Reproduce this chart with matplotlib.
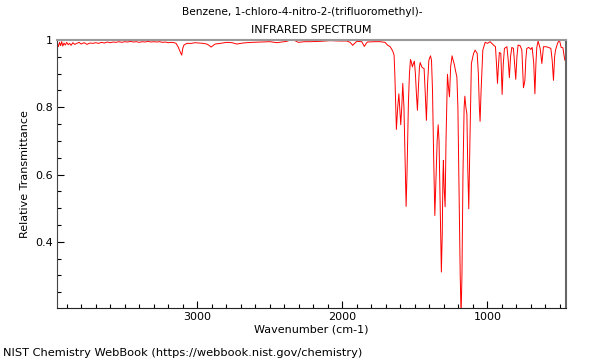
import numpy as np
import matplotlib
matplotlib.use('Agg')
import matplotlib.pyplot as plt
from matplotlib.ticker import MultipleLocator, FixedLocator

# spectrum (wavenumber cm-1, relative transmittance)
wavenumber = [
    3965, 3958, 3950, 3942, 3935, 3927, 3919, 3910, 3900, 3890, 3880, 3870, 3858, 3845,
    3830, 3815, 3800, 3780, 3760, 3740, 3720, 3700, 3680, 3660, 3640, 3620, 3600, 3580,
    3560, 3540, 3520, 3500, 3480, 3460, 3440, 3420, 3400, 3380, 3360, 3340, 3320, 3300,
    3280, 3260, 3240, 3220, 3200, 3180, 3160, 3146, 3130, 3123, 3112, 3107, 3100, 3092,
    3072, 3040, 3015, 2990, 2960, 2934, 2915, 2905, 2890, 2877, 2840, 2797, 2760, 2728,
    2700, 2684, 2659, 2620, 2567, 2498, 2452, 2420, 2383, 2360, 2326, 2303, 2260, 2222,
    2150, 2084, 2020, 1969, 1946, 1928, 1915, 1900, 1866, 1848, 1835, 1827, 1780, 1739,
    1705, 1689, 1670, 1652, 1643, 1638, 1627, 1618, 1610, 1603, 1597, 1590, 1583, 1575,
    1565, 1560, 1554, 1544, 1537, 1530, 1524, 1517, 1510, 1503, 1496, 1489, 1482, 1475,
    1468, 1463, 1452, 1445, 1436, 1430, 1420, 1412, 1403, 1392, 1385, 1378, 1370, 1362,
    1355, 1346, 1339, 1333, 1325, 1317, 1311, 1306, 1303, 1298, 1291, 1285, 1275, 1268,
    1261, 1253, 1243, 1236, 1229, 1220, 1210, 1203, 1195, 1187, 1181, 1175, 1168, 1160,
    1155, 1148, 1141, 1135, 1128, 1120, 1110, 1095, 1084, 1070, 1062, 1055, 1050, 1043,
    1031, 1015, 999, 981, 958, 944, 937, 930, 924, 917, 907, 898, 890, 882,
    865, 856, 848, 840, 831, 820, 812, 804, 796, 788, 774, 762, 751, 745,
    741, 735, 728, 714, 700, 691, 680, 672, 665, 659, 650, 636, 624, 613,
    595, 579, 562, 553, 544, 536, 530, 516, 503, 491, 479, 466, 459,
]
transmittance = [
    0.990, 0.980, 0.993, 0.983, 0.995, 0.982, 0.991, 0.985, 0.993, 0.986, 0.990, 0.984, 0.992, 0.987,
    0.990, 0.993, 0.988, 0.992, 0.987, 0.991, 0.990, 0.992, 0.990, 0.993, 0.991, 0.994, 0.992, 0.994,
    0.993, 0.995, 0.993, 0.995, 0.994, 0.996, 0.994, 0.995, 0.993, 0.995, 0.994, 0.996, 0.994, 0.995,
    0.994, 0.995, 0.993, 0.994, 0.992, 0.993, 0.992, 0.990, 0.978, 0.970, 0.960, 0.955, 0.975, 0.985,
    0.990, 0.990, 0.992, 0.991, 0.990, 0.988, 0.983, 0.979, 0.984, 0.988, 0.990, 0.993, 0.992, 0.988,
    0.990, 0.991, 0.992, 0.993, 0.994, 0.995, 0.992, 0.994, 0.996, 1.000, 0.998, 0.993, 0.995, 0.995,
    0.996, 0.998, 0.997, 0.997, 0.993, 0.984, 0.990, 0.996, 0.995, 0.981, 0.990, 0.994, 0.995, 0.995,
    0.993, 0.985, 0.980, 0.967, 0.955, 0.900, 0.734, 0.800, 0.840, 0.790, 0.748, 0.800, 0.871, 0.800,
    0.600, 0.505, 0.600, 0.816, 0.900, 0.942, 0.935, 0.920, 0.930, 0.937, 0.900, 0.840, 0.791, 0.860,
    0.920, 0.933, 0.920, 0.917, 0.915, 0.860, 0.761, 0.870, 0.940, 0.953, 0.940, 0.850, 0.650, 0.478,
    0.580, 0.700, 0.748, 0.700, 0.500, 0.310, 0.420, 0.600, 0.642, 0.560, 0.504, 0.700, 0.898, 0.860,
    0.831, 0.920, 0.953, 0.940, 0.930, 0.910, 0.890, 0.800, 0.550, 0.300, 0.180, 0.300, 0.600, 0.800,
    0.833, 0.800, 0.780, 0.620, 0.498, 0.700, 0.930, 0.960, 0.970, 0.960, 0.900, 0.800, 0.758, 0.850,
    0.970, 0.993, 0.990, 0.995, 0.985, 0.980, 0.930, 0.871, 0.920, 0.963, 0.960, 0.838, 0.930, 0.975,
    0.980, 0.940, 0.888, 0.950, 0.978, 0.975, 0.930, 0.883, 0.950, 0.985, 0.983, 0.970, 0.858, 0.870,
    0.880, 0.940, 0.975, 0.978, 0.972, 0.978, 0.930, 0.840, 0.930, 0.978, 0.997, 0.975, 0.930, 0.980,
    0.980, 0.978, 0.975, 0.940, 0.880, 0.950, 0.970, 0.990, 1.000, 0.978, 0.977, 0.940, 0.950,
]

y_ticks = [0.4, 0.6, 0.8, 1.0]
y_labels = ['0.4', '0.6', '0.8', '1']

plt.rcParams['font.family'] = 'DejaVu Sans'
plt.rcParams['font.size'] = 8

fig = plt.figure(figsize=(6, 3.6), dpi=100)
ax = fig.add_axes([0.0955, 0.1444, 0.8475, 0.7445])

ax.plot(wavenumber, transmittance, color='red', lw=0.7)

ax.set_xlim(3965, 459)
ax.set_ylim(0.203, 1.0)
ax.set_xticks([3000, 2000, 1000])
ax.xaxis.set_minor_locator(MultipleLocator(100))
ax.set_yticks(y_ticks)
ax.set_yticklabels(y_labels)
ax.yaxis.set_minor_locator(FixedLocator(np.arange(0.25, 1.0, 0.05)))
ax.tick_params(which='major', direction='in', length=5, width=0.8, pad=3)
ax.tick_params(which='minor', direction='in', length=3, width=0.8)

ax.spines['top'].set_color('#999999')
ax.spines['top'].set_linewidth(1.5)
ax.spines['right'].set_color('#666666')
ax.spines['right'].set_linewidth(1.5)
ax.spines['left'].set_color('#444444')
ax.spines['bottom'].set_color('#222222')

ax.set_xlabel('Wavenumber (cm-1)', labelpad=2)
ax.set_ylabel('Relative Transmittance', labelpad=4)

fig.text(302 / 600, 1 - 12 / 360, 'Benzene, 1-chloro-4-nitro-2-(trifluoromethyl)-',
         ha='center', va='center', fontsize=7.6)
fig.text(311 / 600, 1 - 30 / 360, 'INFRARED SPECTRUM', ha='center', va='center')
fig.text(3 / 600, 1 - 353 / 360, 'NIST Chemistry WebBook (https://webbook.nist.gov/chemistry)',
         ha='left', va='center', fontsize=8.2)

fig.savefig('out.png', dpi=100)
